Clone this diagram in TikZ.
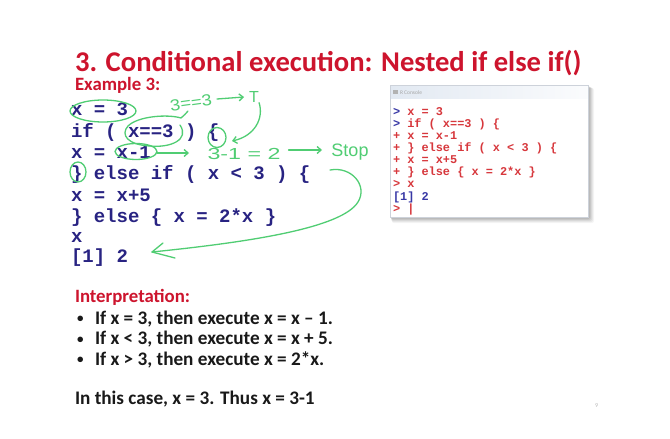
\documentclass[tikz,border=0pt]{standalone}
\usepackage{fontspec}
\setmainfont{Carlito}
\newfontfamily\codefont{Liberation Mono}
\newfontfamily\handfont{Liberation Sans}
\usetikzlibrary{arrows.meta}

\definecolor{slidered}{RGB}{205,20,45}
\definecolor{codeblue}{RGB}{40,35,130}
\definecolor{bodyblack}{RGB}{25,25,25}
\definecolor{inkgreen}{RGB}{80,205,115}
\definecolor{conred}{RGB}{215,55,60}
\definecolor{conblue}{RGB}{55,55,165}
\definecolor{conframe}{RGB}{205,210,218}
\definecolor{conbar}{RGB}{226,233,242}

\tikzset{
  txt/.style={anchor=base west, inner sep=0pt, outer sep=0pt},
  titletext/.style={txt, text depth=1pt, text=slidered, font=\fontsize{28.6}{28.6}\selectfont\bfseries},
  headtext/.style={txt, text=slidered, font=\fontsize{18.8}{18.8}\selectfont\bfseries},
  bodytext/.style={txt, text=bodyblack, font=\fontsize{19.2}{19.2}\selectfont\bfseries},
  bullettext/.style={txt, text=bodyblack, font=\fontsize{13}{13}\selectfont\bfseries},
  codeline/.style={txt, text=codeblue, font=\fontsize{19}{19}\codefont\bfseries},
  conline/.style={txt, text=conred, font=\fontsize{11.9}{11.9}\codefont\bfseries},
  handtext/.style={inner sep=0pt, text=inkgreen, font=\fontsize{16}{16}\handfont},
  inkline/.style={draw=inkgreen, line width=1.3pt, line cap=round, line join=round},
  inkarrow/.style={inkline, -{Straight Barb[length=4pt,width=7pt,line width=1.3pt]}},
}

\begin{document}
\begin{tikzpicture}[x=1pt,y=-1pt]
\useasboundingbox (0,0) rectangle (670,439);
\fill[white] (0,0) rectangle (670,439);

% heading
\node[titletext] (title) at (75,71.5) {3. Conditional execution: Nested if else if()};
\node[headtext] (example) at (75,90) {Example 3:};

% R code listing
\node[codeline] (c1) at (71,115.5) {x = 3};
\node[codeline] (c2) at (71,137) {if ( x==3 ) \{};
\node[codeline] (c3) at (71,158) {x = x-1};
\node[codeline] (c4) at (71,179.5) {\} else if ( x < 3 ) \{};
\node[codeline] (c5) at (71,201) {x = x+5};
\node[codeline] (c6) at (71,222) {\} else \{ x = 2*x \}};
\node[codeline] (c7) at (71,242) {x};
\node[codeline] (c8) at (71,262) {[1] 2};

% console window: soft shadow, frame, title bar
\foreach \d/\o in {6/0.04,5/0.05,4/0.06,3/0.07,2/0.08}
  \fill[black, opacity=\o, rounded corners=2pt] (390+\d*0.3,85+\d*0.5) rectangle (588+\d,217+\d);
\fill[white] (390,85) rectangle (588,217);
\shade[left color=conbar, right color=white!85!conbar] (390,85) rectangle (588,98);
\draw[conframe, line width=0.6pt] (390,85) rectangle (588,217);
\fill[gray!60] (393,89.5) rectangle (398,94);
\node[txt, text=gray!70, font=\fontsize{5.5}{5.5}\selectfont] (contitle) at (400,94) {R Console};

\node[conline] (r1) at (393,115.3) {\textcolor{conblue}{>} x = 3};
\node[conline] (r2) at (393,127.4) {\textcolor{conblue}{>} if ( x==3 ) \{};
\node[conline] (r3) at (393,139.5) {+ x = x-1};
\node[conline] (r4) at (393,151.6) {+ \} else if ( x < 3 ) \{};
\node[conline] (r5) at (393,163.7) {+ x = x+5};
\node[conline] (r6) at (393,175.8) {+ \} else \{ x = 2*x \}};
\node[conline] (r7) at (393,187.9) {> x};
\node[conline, text=conblue] (r8) at (393,200) {[1] 2};
\node[conline] (r9) at (393,212.1) {> \textcolor{conred}{|}};

% interpretation
\node[headtext] (interp) at (75,302) {Interpretation:};
\node[bullettext] (b1) at (77,322.5) {•};
\node[bodytext] (t1) at (95,324) {If x = 3, then execute x = x – 1.};
\node[bullettext] (b2) at (77,343) {•};
\node[bodytext] (t2) at (95,344.5) {If x < 3, then execute x = x + 5.};
\node[bullettext] (b3) at (77,363.5) {•};
\node[bodytext] (t3) at (95,365) {If x > 3, then execute x = 2*x.};
\node[bodytext] (concl) at (75,404) {In this case, x = 3. Thus x = 3-1};

\node[txt, text=gray!55, font=\fontsize{6}{6}\selectfont] (pagenum) at (595,407) {9};

% hand-drawn annotations
\draw[inkline] (103,111) ellipse (33 and 11);
\draw[inkline] (180,125) .. controls (190,140) and (170,148) .. (150,146)
  .. controls (128,145) and (120,135) .. (128,126) .. controls (138,116) and (168,114) .. (181,118)
  .. controls (184,116) and (186,113) .. (188,111);
\draw[inkline] (217,137.5) ellipse (9 and 10);
\draw[inkline] (136,151.5) ellipse (21 and 8);
\draw[inkline] (78,172) ellipse (8 and 10);

\node[handtext, rotate=8] (eq) at (191,103) {\scalebox{1.15}[1]{3==3}};
\node[handtext] (tval) at (254,97) {T};
\coordinate (eqend) at (217,99);
\coordinate (brace) at (232,141);
\draw[inkarrow] (eqend) -- (244,97);
\draw[inkarrow] (tval.south east) .. controls (264,118) and (255,136) .. (brace);

\coordinate (xm1) at (157,153);
\node[handtext] (calc) at (244,154) {\scalebox{1.45}[1]{3-1 = 2}};
\node[handtext, font=\fontsize{18}{18}\handfont] (stop) at (350,152) {Stop};
\draw[inkarrow] (xm1) -- (189,153);
\draw[inkarrow] (calc.east) ++(8,-4) -- (322,150);

\coordinate (loopstart) at (330,170);
\coordinate (loopend) at (152,252);
\draw[inkline] (loopstart) .. controls (352,166) and (368,186) .. (358,202)
  .. controls (342,228) and (250,242) .. (loopend);
\draw[inkline] (163,243) -- (loopend) -- (175,258);
\end{tikzpicture}
\end{document}
